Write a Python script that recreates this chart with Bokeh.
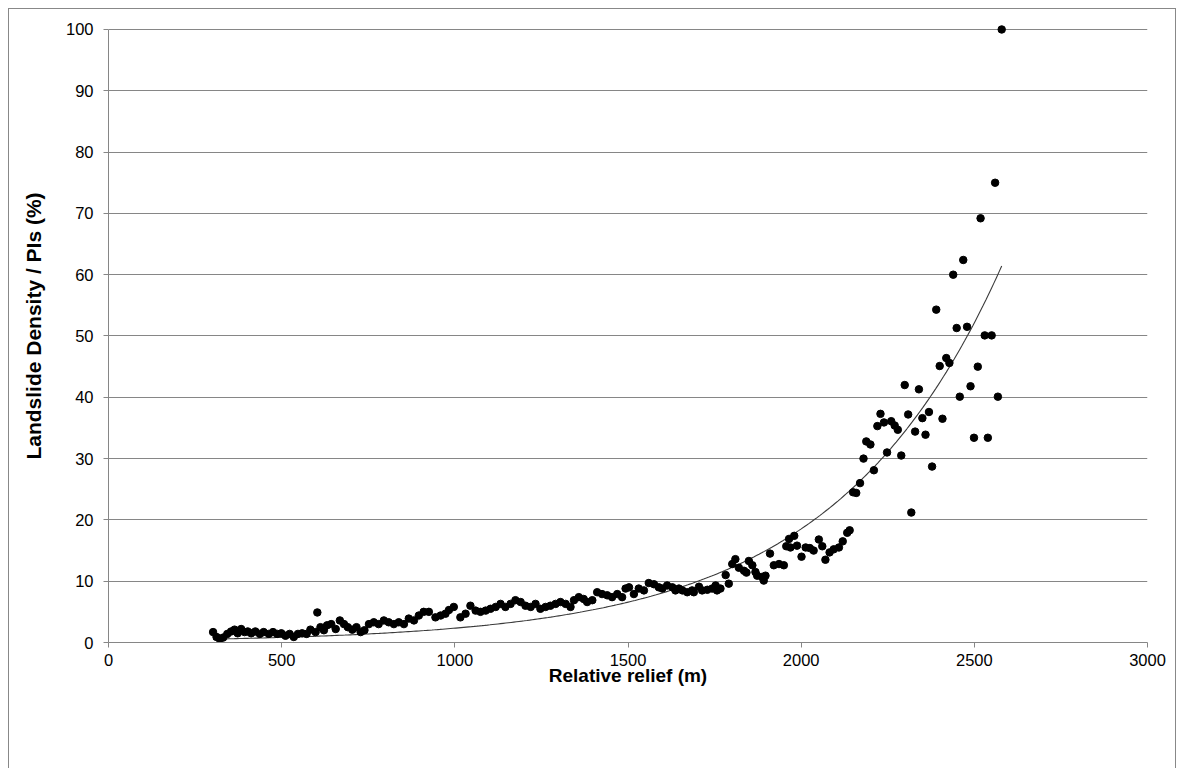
from bokeh.plotting import figure
from bokeh.models import FixedTicker, Range1d
from bokeh.embed import file_html
from bokeh.resources import INLINE
import numpy as np

# ---- data ----
relief_m = [302, 312, 321, 331, 343, 354, 364, 373, 383, 393, 402, 412, 424, 437, 448, 463, 475, 487, 499,
            511, 523, 535, 547, 559, 572, 583, 598, 603, 612, 622, 631, 643, 656, 668, 680, 691, 704, 716,
            728, 739, 752, 766, 780, 795, 809, 824, 838, 853, 867, 882, 896, 910, 925, 944, 959, 973, 983,
            997, 1016, 1031, 1045, 1060, 1074, 1089, 1103, 1118, 1132, 1146, 1161, 1175, 1190, 1204, 1219,
            1233, 1247, 1262, 1276, 1291, 1305, 1320, 1334, 1344, 1358, 1372, 1382, 1397, 1411, 1425, 1440,
            1454, 1469, 1483, 1493, 1503, 1517, 1531, 1546, 1560, 1575, 1589, 1599, 1613, 1628, 1637, 1647,
            1657, 1671, 1685, 1690, 1705, 1714, 1729, 1743, 1753, 1757, 1767, 1782, 1791, 1801, 1810, 1820,
            1835, 1842, 1849, 1859, 1868, 1873, 1887, 1892, 1897, 1910, 1921, 1936, 1950, 1957, 1965, 1969,
            1980, 1988, 2001, 2013, 2025, 2036, 2051, 2061, 2070, 2082, 2094, 2109, 2120, 2133, 2140, 2150,
            2159, 2170, 2180, 2188, 2200, 2210, 2220, 2229, 2239, 2248, 2260, 2270, 2279, 2289, 2299, 2309,
            2318, 2329, 2340, 2350, 2359, 2369, 2378, 2390, 2400, 2408, 2419, 2428, 2439, 2449, 2458, 2468,
            2479, 2489, 2499, 2510, 2518, 2530, 2539, 2550, 2560, 2568, 2579]
density_pct = [1.7, 0.9, 0.6, 0.8, 1.4, 1.8, 2.1, 1.5, 2.2, 1.7, 1.8, 1.5, 1.8, 1.4, 1.7, 1.4, 1.7, 1.4, 1.5,
               1.1, 1.4, 0.9, 1.4, 1.5, 1.4, 2.1, 1.7, 4.9, 2.5, 2.0, 2.8, 3.0, 2.2, 3.6, 3.0, 2.5, 2.1, 2.5,
               1.7, 2.0, 3.0, 3.3, 3.0, 3.6, 3.3, 3.0, 3.3, 3.0, 3.9, 3.6, 4.4, 5.0, 5.0, 4.1, 4.4, 4.7, 5.3,
               5.8, 4.1, 4.7, 6.0, 5.2, 5.0, 5.2, 5.5, 5.8, 6.3, 5.8, 6.3, 6.9, 6.6, 6.0, 5.8,
               6.3, 5.5, 5.8, 6.0, 6.3, 6.6, 6.3, 5.8, 6.9, 7.4, 7.1, 6.6, 6.9, 8.2, 7.9, 7.7,
               7.4, 7.9, 7.4, 8.8, 9.0, 7.9, 8.8, 8.5, 9.7, 9.5, 9.0, 8.8, 9.3, 9.0, 8.5, 8.8,
               8.5, 8.2, 8.5, 8.2, 9.1, 8.5, 8.6, 8.8, 9.3, 8.5, 8.8, 11.0, 9.6, 12.8, 13.6, 12.2,
               11.7, 11.4, 13.3, 12.6, 11.5, 10.9, 10.7, 10.1, 10.9, 14.5, 12.6, 12.8, 12.6, 15.7, 16.9, 15.5,
               17.4, 15.8, 14.0, 15.5, 15.4, 15.0, 16.8, 15.7, 13.5, 14.7, 15.2, 15.5, 16.5, 17.9, 18.3, 24.5,
               24.4, 26.0, 30.0, 32.8, 32.3, 28.1, 35.3, 37.3, 35.9, 31.0, 36.1, 35.4, 34.7, 30.5, 42.0, 37.2,
               21.2, 34.4, 41.3, 36.6, 33.9, 37.6, 28.7, 54.3, 45.1, 36.5, 46.4, 45.6, 60.0, 51.3, 40.1, 62.4,
               51.5, 41.8, 33.4, 45.0, 69.2, 50.1, 33.4, 50.1, 75.0, 40.1, 100.0]

# exponential trendline y = a * exp(b * x), coefficients
trend_a = 0.295
trend_b = 0.00207

x_ticks = [0, 500, 1000, 1500, 2000, 2500, 3000]
y_ticks = [0, 10, 20, 30, 40, 50, 60, 70, 80, 90, 100]

x_title = "Relative relief (m)"
y_title = "Landslide Density / PIs (%)"

FONT = "Liberation Sans"
GRAY = "#868686"

p = figure(width=1168, height=760, output_backend="svg", toolbar_location=None,
           x_range=Range1d(0, 3000), y_range=Range1d(0, 103.26),
           min_border_left=99, min_border_right=30, min_border_top=0, min_border_bottom=127)
p.styles = {"border-left": "1px solid #888888", "border-right": "1px solid #888888",
            "border-top": "1px solid #888888", "margin-left": "8px", "margin-top": "8px"}
p.outline_line_color = None
p.background_fill_color = "white"
p.border_fill_color = "white"

# trendline
tx = np.linspace(min(relief_m), max(relief_m), 300)
ty = trend_a * np.exp(trend_b * tx)
p.line(tx, ty, line_color="#3a3a3a", line_width=1.1)

# scatter
p.scatter(relief_m, density_pct, size=7.5, marker="circle", fill_color="black", line_color="black")

# axes
for ax in (p.xaxis[0], p.yaxis[0]):
    ax.axis_line_color = GRAY
    ax.major_tick_line_color = GRAY
    ax.major_tick_out = 5
    ax.major_tick_in = 0
    ax.minor_tick_line_color = None
    ax.major_label_text_font = FONT
    ax.major_label_text_font_size = "16.5px"
    ax.major_label_text_color = "black"
    ax.axis_label_text_font = FONT
    ax.axis_label_text_font_style = "bold"
    ax.axis_label_text_color = "black"

p.xaxis.axis_label_text_font_size = "19px"
p.yaxis.axis_label_text_font_size = "21px"
p.xaxis.ticker = FixedTicker(ticks=x_ticks)
p.yaxis.ticker = FixedTicker(ticks=y_ticks)
p.yaxis.bounds = (0, 100)
p.xaxis.major_label_standoff = 6
p.yaxis.major_label_standoff = 10
p.xaxis.axis_label = x_title
p.yaxis.axis_label = y_title
p.xaxis.axis_label_standoff = -4
p.yaxis.axis_label_standoff = 18

p.xgrid.visible = False
p.ygrid.ticker = FixedTicker(ticks=y_ticks)
p.ygrid.grid_line_color = GRAY
p.ygrid.grid_line_width = 1

open("out.html", "w").write(file_html(p, INLINE))
